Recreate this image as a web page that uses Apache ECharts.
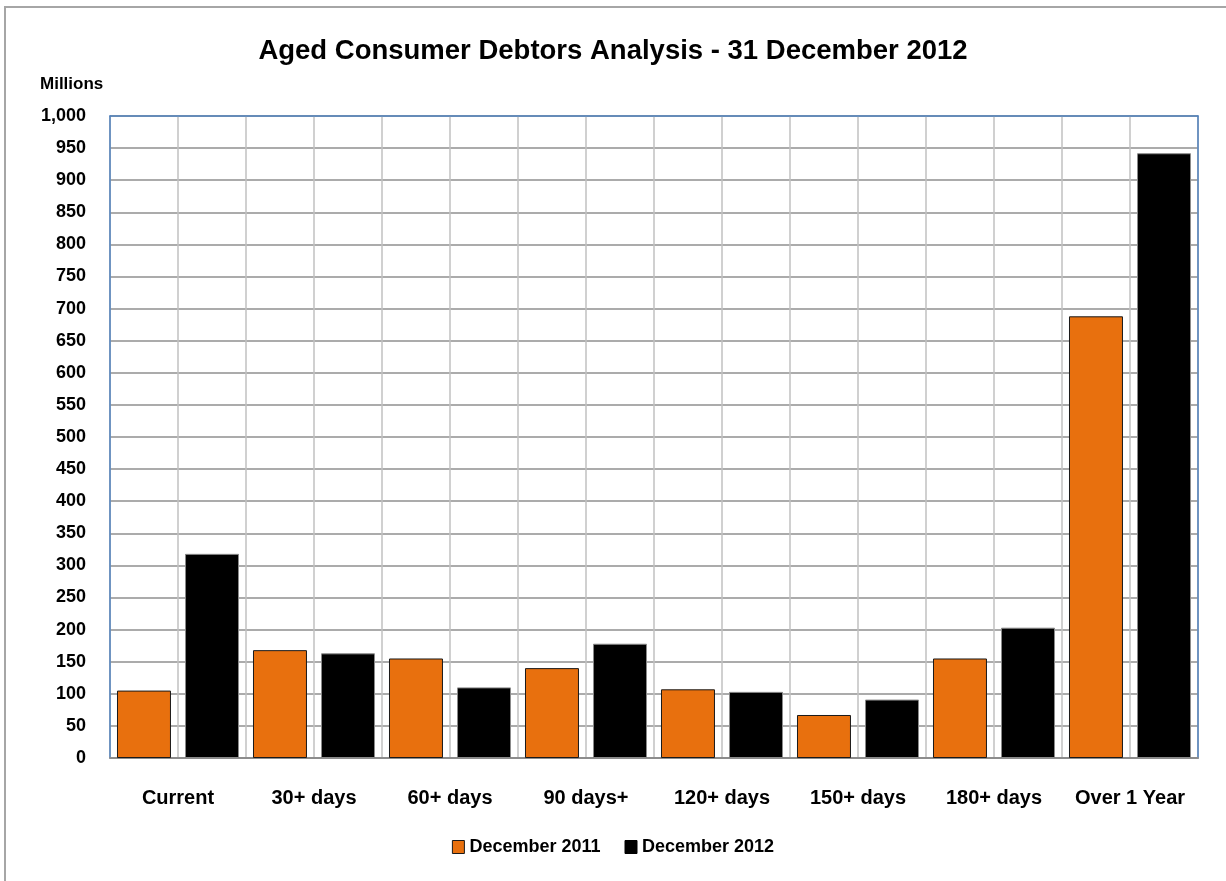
<!DOCTYPE html>
<html>
<head>
<meta charset="utf-8">
<script src="https://cdn.jsdelivr.net/npm/echarts@6/dist/echarts.min.js"></script>
<style>
  html, body { margin: 0; padding: 0; background: #fff; }
  #chart { width: 1226px; height: 881px; }
</style>
</head>
<body>
<div id="chart"></div>
<script>
// Ageing buckets and balances (in millions)
const categories = ['Current', '30+ days', '60+ days', '90 days+', '120+ days', '150+ days', '180+ days', 'Over 1 Year'];
const dec2011 = [105, 168, 155, 140, 107, 67, 155, 688];
const dec2012 = [318, 163, 110, 178, 103, 91, 203, 942];
const seriesNames = ['December 2011', 'December 2012'];
const yTicks = { min: 0, max: 1000, interval: 50 };

const FONT = '"Liberation Sans", Arial, sans-serif';
const chart = echarts.init(document.getElementById('chart'), null, { renderer: 'canvas' });

chart.setOption({
  backgroundColor: '#ffffff',
  animation: false,
  textStyle: { fontFamily: FONT, color: '#000' },
  title: {
    text: 'Aged Consumer Debtors Analysis - 31 December 2012',
    left: 'center',
    top: 32,
    textStyle: { fontFamily: FONT, fontWeight: 'bold', fontSize: 27.5, color: '#000' }
  },
  graphic: [
    {
      type: 'rect', z: -1,
      shape: { x: 5, y: 7, width: 1300, height: 1000 },
      style: { fill: null, stroke: '#a6a6a6', lineWidth: 2 }
    },
    {
      type: 'text', left: 40, top: 76,
      style: { text: 'Millions', font: 'bold 17px ' + FONT, fill: '#000' }
    }
  ],
  legend: {
    data: [
      { name: seriesNames[0], itemStyle: { borderColor: '#1a1a1a', borderWidth: 1 } },
      { name: seriesNames[1], itemStyle: { borderColor: '#000000', borderWidth: 1 } }
    ],
    bottom: 20,
    left: 'center',
    icon: 'rect',
    itemWidth: 12,
    itemHeight: 13,
    itemGap: 24,
    textStyle: { fontFamily: FONT, fontWeight: 'bold', fontSize: 18, color: '#000' }
  },
  grid: { left: 110, right: 28, top: 116, bottom: 123, containLabel: false },
  xAxis: [
    {
      type: 'category',
      data: categories,
      axisLine: { lineStyle: { color: '#8c8c8c', width: 2 } },
      axisTick: { show: false },
      splitLine: { show: false },
      axisLabel: { interval: 0, hideOverlap: false, margin: 30, fontFamily: FONT, fontWeight: 'bold', fontSize: 20, color: '#000' },
      z: 4
    },
    {
      // half-bucket vertical grid and top frame
      type: 'value',
      position: 'top',
      min: 0, max: 16, interval: 1,
      axisLine: { show: true, onZero: false, lineStyle: { color: '#4f81bd', width: 1.5 } },
      axisTick: { show: false },
      axisLabel: { show: false },
      splitLine: { show: true, lineStyle: { color: '#c0c0c0', width: 1.5 } },
      z: 3
    }
  ],
  yAxis: [
    {
      type: 'value',
      min: yTicks.min, max: yTicks.max, interval: yTicks.interval,
      axisLine: { show: true, lineStyle: { color: '#4f81bd', width: 1.5 } },
      axisTick: { show: false },
      splitLine: { show: true, lineStyle: { color: '#8f8f8f', width: 1.5 } },
      axisLabel: {
        margin: 24,
        fontFamily: FONT, fontWeight: 'bold', fontSize: 18, color: '#000',
        formatter: v => v.toLocaleString('en-US')
      },
      z: 3
    },
    {
      type: 'value',
      position: 'right',
      min: yTicks.min, max: yTicks.max, interval: yTicks.interval,
      axisLine: { show: true, lineStyle: { color: '#4f81bd', width: 1.5 } },
      axisTick: { show: false },
      axisLabel: { show: false },
      splitLine: { show: false },
      z: 3
    }
  ],
  series: [
    {
      name: seriesNames[0],
      type: 'bar',
      data: dec2011,
      barWidth: '39.7%',
      barGap: '26%',
      itemStyle: { color: '#e8700e', borderColor: '#1a1a1a', borderWidth: 1 },
      z: 5
    },
    {
      name: seriesNames[1],
      type: 'bar',
      data: dec2012,
      barWidth: '39.7%',
      barGap: '26%',
      itemStyle: { color: '#000000', borderColor: '#8a8a8a', borderWidth: 1 },
      z: 5
    }
  ]
});
</script>
</body>
</html>
